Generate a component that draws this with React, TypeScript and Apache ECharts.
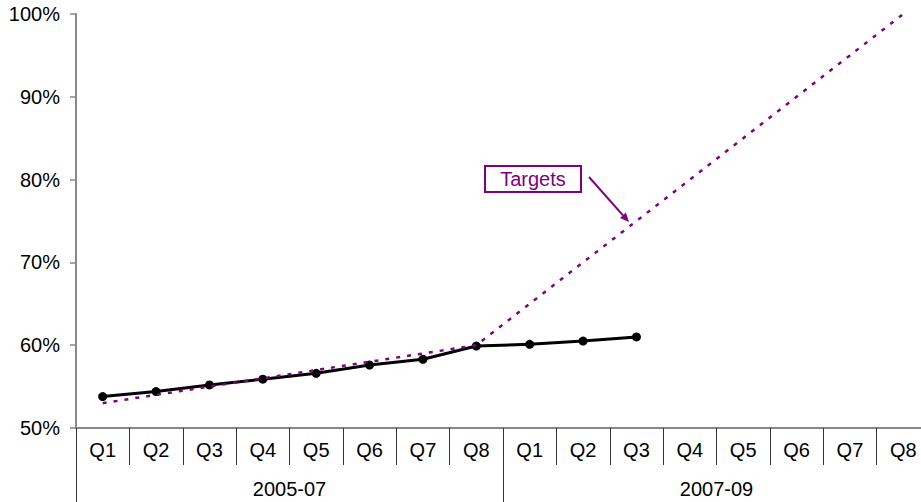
import React, { useEffect, useRef } from "react";
import * as echarts from "echarts";

const quarters = ["Q1", "Q2", "Q3", "Q4", "Q5", "Q6", "Q7", "Q8", "Q1", "Q2", "Q3", "Q4", "Q5", "Q6", "Q7", "Q8"];
const periods = ["2005-07", "2007-09"];
const actual = [53.8, 54.4, 55.2, 55.9, 56.6, 57.6, 58.3, 59.9, 60.1, 60.5, 61.0];
const targets = [53, 54, 55, 56, 57, 58, 59, 60, 65, 70, 75, 80, 85, 90, 95, 100];
const yTicks = { min: 50, max: 100, interval: 10 };

const FONT = "'Liberation Sans', Arial, Helvetica, sans-serif";
const PURPLE = "#800080";

export default function App() {
  const ref = useRef<HTMLDivElement>(null);
  useEffect(() => {
    if (!ref.current) return;
    const chart = echarts.init(ref.current, undefined, { renderer: "svg" });
    chart.setOption({
      animation: false,
      backgroundColor: "#fff",
      grid: { left: 76, right: 10, top: 14, bottom: 74, containLabel: false },
      xAxis: [
        {
          type: "category",
          data: quarters,
          position: "bottom",
          boundaryGap: true,
          axisLine: { show: true, lineStyle: { color: "#888", width: 2 } },
          axisTick: { show: true, interval: 0, length: 37, lineStyle: { color: "#333", width: 1 } },
          axisLabel: { interval: 0, margin: 12, fontSize: 20, color: "#000", fontFamily: FONT },
          splitLine: { show: false },
        },
        {
          type: "category",
          data: periods,
          position: "bottom",
          boundaryGap: true,
          axisLine: { show: false },
          axisTick: { show: true, interval: 0, length: 74, lineStyle: { color: "#333", width: 1 } },
          axisLabel: { interval: 0, margin: 51, fontSize: 20, color: "#000", fontFamily: FONT },
          splitLine: { show: false },
        },
      ],
      yAxis: {
        type: "value",
        min: yTicks.min,
        max: yTicks.max,
        interval: yTicks.interval,
        axisLine: { show: true, lineStyle: { color: "#888", width: 2 } },
        axisTick: { show: true, length: 6, lineStyle: { color: "#888", width: 1.5 } },
        axisLabel: { formatter: "{value}%", margin: 16, fontSize: 20, color: "#000", fontFamily: FONT },
        splitLine: { show: false },
      },
      series: [
        {
          name: "Actual",
          type: "line",
          xAxisIndex: 0,
          data: actual,
          symbol: "circle",
          symbolSize: 9,
          itemStyle: { color: "#000" },
          lineStyle: { color: "#000", width: 3 },
          z: 2,
        },
        {
          name: "Targets",
          type: "line",
          xAxisIndex: 0,
          data: targets,
          symbol: "none",
          lineStyle: { color: PURPLE, width: 2.5, type: [4, 7] },
          z: 3,
        },
      ],
      graphic: [
        {
          type: "rect",
          shape: { x: 485, y: 166, width: 96, height: 26 },
          style: { fill: "#fff", stroke: PURPLE, lineWidth: 2 },
          z: 10,
        },
        {
          type: "text",
          x: 533,
          y: 179,
          style: {
            text: "Targets",
            fill: PURPLE,
            fontSize: 20,
            fontFamily: FONT,
            align: "center",
            verticalAlign: "middle",
          },
          z: 11,
        },
        {
          type: "line",
          shape: { x1: 589, y1: 177, x2: 623, y2: 215.3 },
          style: { stroke: PURPLE, lineWidth: 2 },
          z: 10,
        },
        {
          type: "polygon",
          shape: { points: [[629, 222], [620, 218], [625.9, 212.6]] },
          style: { fill: PURPLE },
          z: 10,
        },
      ],
    });
    return () => chart.dispose();
  }, []);

  return (
    <div style={{ position: "fixed", left: 0, top: 0, width: 921, height: 502, overflow: "hidden", background: "#fff" }}>
      <div ref={ref} style={{ width: 940, height: 502 }} />
    </div>
  );
}
